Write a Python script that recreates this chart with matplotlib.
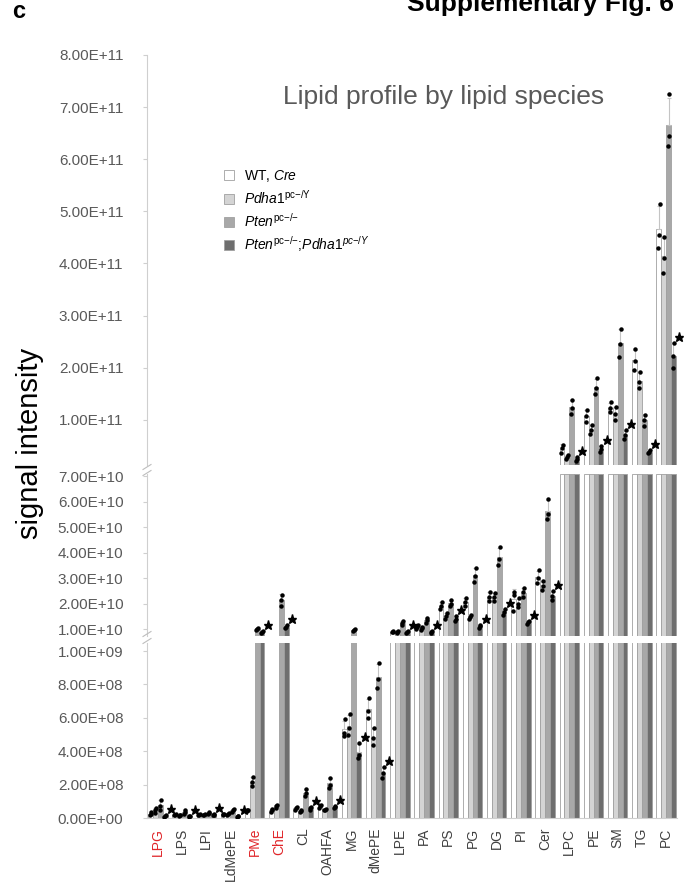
import numpy as np
import matplotlib.pyplot as plt
from matplotlib.patches import Patch
from matplotlib.lines import Line2D
from matplotlib.transforms import offset_copy

plt.rcParams['font.family'] = ['Liberation Sans', 'DejaVu Sans']
plt.rcParams['mathtext.fontset'] = 'custom'
plt.rcParams['mathtext.rm'] = 'Liberation Sans'
plt.rcParams['mathtext.it'] = 'Liberation Sans:italic'
plt.rcParams['mathtext.bf'] = 'Liberation Sans:bold'

lipids = ['LPG', 'LPS', 'LPI', 'LdMePE', 'PMe', 'ChE', 'CL', 'OAHFA', 'MG', 'dMePE',
          'LPE', 'PA', 'PS', 'PG', 'DG', 'PI', 'Cer', 'LPC', 'PE', 'SM', 'TG', 'PC']
red_lipids = ['LPG', 'PMe', 'ChE']

# three replicates per lipid class, one list per genotype
wt_cre = [
    [1.5e7, 2.5e7, 3.5e7], [1.5e7, 2.0e7, 2.5e7], [1.5e7, 2.0e7, 2.3e7], [1.8e7, 2.2e7, 2.6e7],
    [4.0e7, 4.5e7, 5.0e7], [3.5e7, 4.5e7, 5.5e7], [5.0e7, 6.0e7, 6.5e7], [6.0e7, 7.0e7, 7.5e7],
    [4.9e8, 5.1e8, 5.9e8], [6.0e8, 6.4e8, 7.2e8],
    [0.87e10, 0.90e10, 0.93e10], [1.00e10, 1.08e10, 1.15e10], [1.78e10, 1.90e10, 2.05e10],
    [1.90e10, 2.05e10, 2.20e10], [2.10e10, 2.25e10, 2.45e10], [1.70e10, 2.35e10, 2.45e10],
    [2.80e10, 3.00e10, 3.30e10],
    [0.36e11, 0.46e11, 0.52e11], [0.96e11, 1.07e11, 1.19e11], [1.15e11, 1.22e11, 1.34e11],
    [1.96e11, 2.12e11, 2.36e11], [4.30e11, 4.55e11, 5.15e11],
]
pdha1_ko = [
    [3.0e7, 4.5e7, 6.0e7], [1.0e7, 1.5e7, 2.0e7], [1.6e7, 2.0e7, 2.4e7], [2.0e7, 2.5e7, 3.0e7],
    [1.9e8, 2.15e8, 2.45e8], [6.0e7, 7.0e7, 7.5e7], [3.5e7, 4.0e7, 4.5e7], [4.5e7, 5.0e7, 5.5e7],
    [5.0e8, 5.4e8, 6.2e8], [4.4e8, 4.8e8, 5.4e8],
    [0.86e10, 0.90e10, 0.92e10], [0.98e10, 1.04e10, 1.10e10], [1.40e10, 1.50e10, 1.65e10],
    [1.40e10, 1.47e10, 1.55e10], [2.10e10, 2.25e10, 2.40e10], [1.85e10, 2.00e10, 2.20e10],
    [2.55e10, 2.70e10, 2.90e10],
    [0.25e11, 0.29e11, 0.33e11], [0.72e11, 0.80e11, 0.90e11], [1.00e11, 1.12e11, 1.25e11],
    [1.61e11, 1.73e11, 1.92e11], [3.82e11, 4.10e11, 4.50e11],
]
pten_ko = [
    [5.0e7, 7.0e7, 1.1e8], [2.5e7, 3.5e7, 4.5e7], [2.5e7, 3.0e7, 3.4e7], [3.5e7, 4.5e7, 5.5e7],
    [0.95e10, 1.00e10, 1.05e10], [1.90e10, 2.15e10, 2.35e10], [1.3e8, 1.5e8, 1.75e8], [1.8e8, 2.0e8, 2.4e8],
    [0.92e10, 0.96e10, 1.00e10], [7.8e8, 8.3e8, 9.3e8],
    [1.18e10, 1.25e10, 1.32e10], [1.25e10, 1.35e10, 1.45e10], [1.90e10, 2.00e10, 2.15e10],
    [2.85e10, 3.10e10, 3.40e10], [3.50e10, 3.75e10, 4.20e10], [2.25e10, 2.45e10, 2.60e10],
    [5.30e10, 5.50e10, 6.10e10],
    [1.11e11, 1.23e11, 1.38e11], [1.50e11, 1.62e11, 1.80e11], [2.20e11, 2.45e11, 2.75e11],
    [0.88e11, 1.00e11, 1.10e11], [6.25e11, 6.45e11, 7.25e11],
]
pten_pdha1_ko = [
    [0.8e7, 1.2e7, 1.6e7], [0.6e7, 1.0e7, 1.2e7], [1.5e7, 1.8e7, 2.2e7], [0.6e7, 0.9e7, 1.2e7],
    [0.85e10, 0.88e10, 0.92e10], [1.05e10, 1.10e10, 1.15e10], [5.0e7, 6.0e7, 6.5e7], [6.0e7, 6.5e7, 7.0e7],
    [3.6e8, 3.8e8, 4.5e8], [2.4e8, 2.7e8, 3.05e8],
    [0.86e10, 0.90e10, 0.93e10], [0.85e10, 0.88e10, 0.92e10], [1.30e10, 1.40e10, 1.50e10],
    [1.05e10, 1.12e10, 1.18e10], [1.55e10, 1.67e10, 1.80e10], [1.20e10, 1.27e10, 1.33e10],
    [2.15e10, 2.30e10, 2.50e10],
    [0.22e11, 0.25e11, 0.28e11], [0.38e11, 0.44e11, 0.50e11], [0.63e11, 0.70e11, 0.80e11],
    [0.36e11, 0.38e11, 0.43e11], [2.00e11, 2.22e11, 2.48e11],
]
# significance vs. Pten single knockout
significant = [True] * len(lipids)

legend_labels = [r'WT, $\mathit{Cre}$',
                 r'$\mathit{Pdha1}^{\mathrm{pc{-}/Y}}$',
                 r'$\mathit{Pten}^{\mathrm{pc{-}/{-}}}$',
                 r'$\mathit{Pten}^{\mathrm{pc{-}/{-}}}$;$\mathit{Pdha1}^{\mathit{pc{-}/Y}}$']
colors = ['#ffffff', '#d4d4d4', '#a8a8a8', '#6e6e6e']

reps = np.array([wt_cre, pdha1_ko, pten_ko, pten_pdha1_ko])
means = reps.mean(axis=2)
sds = reps.std(axis=2, ddof=1)
x = np.arange(len(lipids))
offsets = [-0.3, -0.1, 0.1, 0.3]
width = 0.2
grey = '#cfcfcf'

W, H = 690, 884
fig = plt.figure(figsize=(W / 100, H / 100), dpi=100)


def panel(top, bottom):
    ax = fig.add_axes([147 / W, 1 - bottom / H, 530 / W, (bottom - top) / H])
    ax.set_xlim(-0.45, len(lipids) - 0.55)
    for s in ['top', 'right', 'bottom']:
        ax.spines[s].set_visible(False)
    ax.spines['left'].set_color(grey)
    ax.spines['left'].set_linewidth(0.8)
    ax.tick_params(axis='y', length=3, width=0.8, color=grey, pad=14,
                   labelsize=11, labelcolor='#595959')
    ax.tick_params(axis='x', length=0)
    ax.set_xticks([])
    ax.yaxis.set_major_formatter(lambda v, pos: '{:.2E}'.format(v))
    return ax


ax_top = panel(55, 465)
ax_mid = panel(474, 636)
ax_bot = panel(643, 818)

ax_top.set_ylim(0.134e11, 8.0e11)
ax_top.set_yticks(np.arange(1, 9) * 1e11)
ax_mid.set_ylim(0.73e10, 7.08e10)
ax_mid.set_yticks(np.arange(1, 8) * 1e10)
ax_bot.set_ylim(0, 1.048e9)
ax_bot.set_yticks(np.arange(0, 6) * 2e8)


def draw(ax, show, through, clip_stars=True):
    top = ax.get_ylim()[1]
    pts = show & ~through
    for g in range(4):
        h = np.where(through, top, means[g])
        ax.bar(x[show] + offsets[g], h[show], width, color=colors[g],
               edgecolor='#a0a0a0', linewidth=0.6, zorder=2)
        ax.errorbar(x[pts] + offsets[g], means[g][pts],
                    yerr=[np.zeros(pts.sum()), sds[g][pts]], fmt='none',
                    ecolor='#c4c4c4', elinewidth=0.8, capsize=1.5, capthick=0.8, zorder=3)
        for k, dx in enumerate([-0.03, 0.0, 0.03]):
            ax.plot(x[pts] + offsets[g] + dx, reps[g, pts, k], linestyle='none',
                    marker='o', ms=2.2, color='black', zorder=4)
    star = pts & np.array(significant)
    star_tr = offset_copy(ax.transData, fig=fig, x=3, y=6, units='dots')
    ax.plot(x[star] + 0.42, reps[3, star].max(axis=1), linestyle='none', marker='*',
            ms=6.5, color='black', transform=star_tr, zorder=4, clip_on=clip_stars)


# classes that run past the middle segment are shown on the top segment
reaches_top = reps.max(axis=(0, 2)) > ax_mid.get_ylim()[1]
none = np.zeros(len(lipids), dtype=bool)
draw(ax_top, reaches_top, none, clip_stars=False)
draw(ax_mid, np.ones(len(lipids), dtype=bool), reaches_top)
draw(ax_bot, np.ones(len(lipids), dtype=bool), none)

ax_bot.spines['bottom'].set_visible(True)
ax_bot.spines['bottom'].set_color(grey)
ax_bot.spines['bottom'].set_linewidth(0.8)
ax_bot.set_xticks(x)
ax_bot.set_xticklabels(lipids, rotation=90, fontsize=10)
ax_bot.tick_params(axis='x', pad=7)
for lab in ax_bot.get_xticklabels():
    lab.set_color('#e0262a' if lab.get_text() in red_lipids else '#404040')

# axis break marks
for yb in [467, 473, 634, 641]:
    fig.add_artist(Line2D([143 / W, 151 / W], [1 - (yb + 2.5) / H, 1 - (yb - 2.5) / H],
                          color='#bdbdbd', lw=0.8))

handles = [Patch(facecolor=c, edgecolor='#a0a0a0', linewidth=0.6) for c in colors]
fig.legend(handles, legend_labels, loc='upper left', bbox_to_anchor=(224 / W, 1 - 168 / H),
           frameon=False, fontsize=10, handlelength=0.75, handleheight=0.75,
           handletextpad=0.7, labelspacing=0.35, borderaxespad=0, borderpad=0)

fig.text(444 / W, 1 - 97 / H, 'Lipid profile by lipid species', ha='center', va='center',
         fontsize=19, color='#595959')
fig.text(30 / W, 1 - 443 / H, 'signal intensity', rotation=90, ha='center', va='center',
         fontsize=21, color='black')
fig.text(12 / W, 1 - 18 / H, 'c', fontsize=17, weight='bold', va='baseline')
fig.text(407 / W, 1 - 11 / H, 'Supplementary Fig. 6', fontsize=19, weight='bold', va='baseline')

fig.savefig('out.png', dpi=100)
